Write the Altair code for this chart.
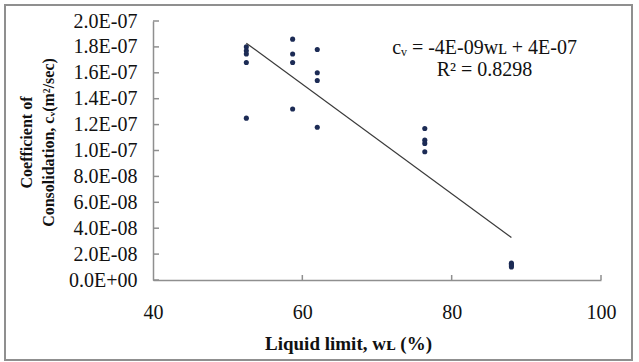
import altair as alt
import pandas as pd

# Liquid limit (%) and coefficient of consolidation (m^2/sec)
wl = [52.5, 52.5, 52.5, 52.5, 52.5,
      58.7, 58.7, 58.7, 58.7,
      62, 62, 62, 62,
      76.4, 76.4, 76.4, 76.4,
      88, 88, 88, 88]
cv = [1.80e-7, 1.77e-7, 1.745e-7, 1.68e-7, 1.25e-7,
      1.86e-7, 1.745e-7, 1.68e-7, 1.32e-7,
      1.78e-7, 1.60e-7, 1.54e-7, 1.18e-7,
      1.17e-7, 1.08e-7, 1.055e-7, 0.99e-7,
      0.13e-7, 0.12e-7, 0.11e-7, 0.10e-7]

x_ticks = [40, 60, 80, 100]
x_inner_ticks = [60, 80, 100]
y_ticks = [0, 2e-8, 4e-8, 6e-8, 8e-8, 1e-7, 1.2e-7, 1.4e-7, 1.6e-7, 1.8e-7, 2e-7]

eq_lines = ["c\u1d65 = -4E-09w\u029f + 4E-07", "R\u00b2 = 0.8298"]
eq_x = [84.4, 84.4]
eq_y = [1.792e-7, 1.622e-7]

FONT = "Liberation Serif"
GRAY = "#8f8f8f"

df = pd.DataFrame({"wl": wl, "cv": cv})
xt = pd.DataFrame({"wl": x_inner_ticks})
yt = pd.DataFrame({"cv": y_ticks})
eq = pd.DataFrame({"txt": eq_lines, "wl": eq_x, "cv": eq_y})

xscale = alt.Scale(domain=[40, 100], nice=False, zero=False)
yscale = alt.Scale(domain=[0, 2e-7], nice=False)

label_expr = ("datum.value == 0 ? '0.0E+00' : (datum.value < 9.9e-8 ? "
              "format(datum.value*1e8, '.1f') + 'E-08' : "
              "format(datum.value*1e7, '.1f') + 'E-07')")

xaxis = alt.Axis(values=x_ticks, ticks=False, grid=False, domainColor=GRAY,
                 domainWidth=1.5, labelFont=FONT, labelFontSize=20,
                 labelColor="#111111", labelPadding=22, labelFlush=False,
                 title="Liquid limit, w\u029f (%)", titleFont=FONT,
                 titleFontSize=19, titleFontWeight="bold", titleColor="#111111",
                 titleX=195, titleY=69, titleAlign="center",
                 titleBaseline="alphabetic")
yaxis = alt.Axis(values=y_ticks, ticks=False, grid=False, domainColor=GRAY,
                 domainWidth=1.5, labelFont=FONT, labelFontSize=20,
                 labelColor="#111111", labelPadding=16, labelExpr=label_expr,
                 labelFlush=False,
                 title=["Coefficient of", "Consolidation, c\u1d65(m\u00b2/sec)"],
                 titleFont=FONT, titleFontSize=16, titleFontWeight="bold",
                 titleColor="#111111", titleLineHeight=22,
                 titleX=-127, titleY=121, titleAlign="center",
                 titleBaseline="middle", titleAngle=270)

X = alt.X("wl:Q", scale=xscale, axis=xaxis)
Y = alt.Y("cv:Q", scale=yscale, axis=yaxis)

points = alt.Chart(df).mark_point(filled=True, size=26, color="#1c2b55", opacity=1).encode(
    x=X, y=Y)

trend = alt.Chart(df).transform_regression("wl", "cv").mark_line(
    color="#3a3a3a", strokeWidth=1.2).encode(x=X, y=Y)

yticks_layer = alt.Chart(yt).mark_rule(color=GRAY, strokeWidth=1.5).encode(
    y=Y, x=alt.value(0), x2=alt.value(6))

xticks_layer = alt.Chart(xt).mark_rule(color=GRAY, strokeWidth=1.5).encode(
    x=X, y=alt.value(259), y2=alt.value(254))

eq_layer = alt.Chart(eq).mark_text(font=FONT, fontSize=20, color="#111111",
                                   align="center", baseline="middle").encode(
    x=X, y=Y, text="txt:N")

border = alt.Chart(alt.Data(values=[{"a": 1}])).mark_rect(
    fill="white", fillOpacity=0, stroke=GRAY, strokeWidth=2).encode(
    x=alt.value(-148), x2=alt.value(479), y=alt.value(-16), y2=alt.value(339))

chart = alt.layer(points, border, yticks_layer, xticks_layer, trend, eq_layer).properties(
    width=448, height=259,
    autosize=alt.AutoSizeParams(type="none"),
    padding={"left": 153, "top": 21, "right": 38, "bottom": 82},
    background="white",
).configure_view(strokeWidth=0)

chart.save("out.html", embed_options={"renderer": "svg", "actions": False})
